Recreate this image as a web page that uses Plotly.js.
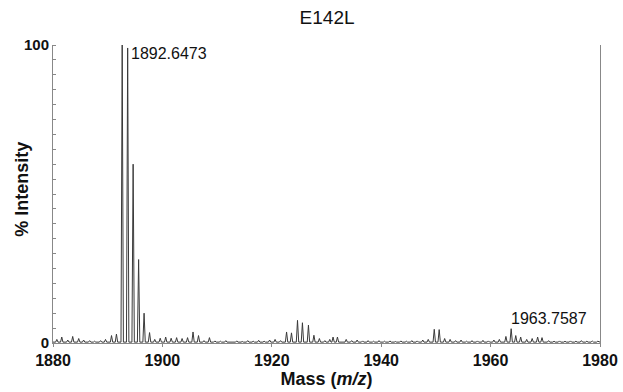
<!DOCTYPE html>
<html>
<head>
<meta charset="utf-8">
<script src="https://cdn.plot.ly/plotly-3.0.1.min.js"></script>
<style>html,body{margin:0;padding:0;background:#fff;}#chart{width:623px;height:392px;}</style>
</head>
<body>
<div id="chart"></div>
<script>
// Peak list (m/z, % intensity)
const peakMz = [
  1880.7,1881.6,1882.7,1883.6,1884.7,1885.6,1886.7,1887.6,1888.7,1889.6,
  1890.7,1891.6,1892.65,1893.65,1894.65,1895.65,1896.65,1897.65,1898.6,1899.6,
  1900.6,1901.6,1902.6,1903.6,1904.6,1905.6,1906.6,1907.6,1908.6,1909.6,
  1910.6,1911.6,1912.6,1913.6,1914.6,1915.6,1916.6,1917.6,1918.6,1919.6,
  1920.6,1921.6,1922.7,1923.6,1924.7,1925.6,1926.7,1927.7,1928.7,1929.7,
  1930.6,1931.2,1932.0,1933.6,1934.6,1935.6,1936.6,1937.6,1938.6,1939.6,
  1940.6,1941.6,1942.6,1943.6,1944.6,1945.6,1946.6,1947.6,1948.6,1949.7,
  1950.6,1951.6,1952.6,1953.6,1954.6,1955.6,1956.6,1957.6,1958.6,1959.6,
  1960.6,1961.6,1962.8,1963.76,1964.6,1965.5,1966.6,1967.6,1968.6,1969.4,
  1970.6,1971.6,1972.6,1973.6,1974.6,1975.6,1976.6,1977.6,1978.6,1979.6
];
const peakInt = [
  1.2,2.0,1.0,2.2,1.5,1.0,0.8,0.6,0.8,1.2,
  2.5,3.0,100,99,60,28,10,3.5,1.2,1.6,
  2.0,1.6,1.8,1.5,1.8,3.7,2.5,0.8,1.8,0.7,
  0.6,0.8,0.5,0.7,0.5,0.8,0.6,0.9,0.6,1.0,
  1.2,0.8,3.7,3.4,7.6,6.8,6.0,2.6,1.5,0.8,
  1.2,2.0,2.0,1.2,0.8,1.0,0.7,0.8,0.6,0.8,
  0.6,0.7,0.5,0.7,0.6,0.8,0.7,1.0,1.2,4.6,
  4.5,1.5,1.2,0.8,1.0,0.6,0.8,0.7,0.9,0.7,
  1.0,1.2,2.2,4.8,2.5,2.0,1.2,1.5,2.0,1.8,
  0.8,0.6,0.7,0.6,0.7,0.6,0.8,0.6,0.7,0.6
];
const baselineLevel = 0.3;
const labelMz = [1892.6473, 1963.7587];
const labelInt = [100, 4.8];
const labelText = ["1892.6473", "1963.7587"];
const xTicks = [1880, 1900, 1920, 1940, 1960, 1980];
const yTicks = [0, 100];

// Build a profile trace from the peak list (narrow triangular peaks)
const halfWidth = 0.22;
const xs = [1880], ys = [baselineLevel];
for (let i = 0; i < peakMz.length; i++) {
  xs.push(peakMz[i] - halfWidth, peakMz[i], peakMz[i] + halfWidth);
  ys.push(baselineLevel, peakInt[i], baselineLevel);
}
xs.push(1980); ys.push(baselineLevel);

const font = "'Liberation Sans', Arial, sans-serif";
const annotations = labelMz.map((m, i) => ({
  x: m, y: labelInt[i], xref: 'x', yref: 'y',
  text: labelText[i], showarrow: false,
  xanchor: 'left', yanchor: i === 0 ? 'top' : 'bottom',
  xshift: i === 0 ? 7 : -2, yshift: i === 0 ? 2 : 0,
  font: {family: font, size: 16, color: '#111'}
}));
// y-axis title placed as a rotated annotation
annotations.push({
  xref: 'paper', yref: 'paper', x: -0.058, y: 0.515,
  xanchor: 'center', yanchor: 'middle', textangle: -90,
  text: '% Intensity', showarrow: false,
  font: {family: font, size: 18, color: '#111', weight: 'bold'}
});

const layout = {
  width: 623, height: 392,
  margin: {l: 53, r: 23, t: 45, b: 49},
  paper_bgcolor: '#fff', plot_bgcolor: '#fff',
  showlegend: false,
  title: {text: 'E142L', font: {family: font, size: 19, color: '#111'}, x: 0.525, xanchor: 'center', y: 0.955, yanchor: 'middle'},
  xaxis: {
    range: [1880, 1980], tickvals: xTicks, ticktext: xTicks.map(String),
    showgrid: false, zeroline: false, showline: true, linecolor: '#888', linewidth: 1,
    ticks: 'outside', ticklen: 3, tickcolor: '#888',
    tickfont: {family: font, size: 16, color: '#111', weight: 'bold'},
    title: {text: 'Mass (<i>m/z</i>)', font: {family: font, size: 18, color: '#111', weight: 'bold'}, standoff: 2}
  },
  yaxis: {
    range: [0, 100], tickvals: yTicks, ticktext: yTicks.map(String),
    showgrid: false, zeroline: false, showline: true, mirror: true, linecolor: '#888', linewidth: 1,
    ticks: '',
    minor: {tickmode: 'linear', tick0: 0, dtick: 5, ticks: 'inside', ticklen: 3, tickcolor: '#888', showgrid: false},
    tickfont: {family: font, size: 15, color: '#111', weight: 'bold'}
  },
  annotations: annotations
};

Plotly.newPlot('chart', [{
  type: 'scatter', mode: 'lines', x: xs, y: ys,
  line: {color: '#3a3a3a', width: 1}, hoverinfo: 'skip'
}], layout, {staticPlot: true, displayModeBar: false});
</script>
</body>
</html>
